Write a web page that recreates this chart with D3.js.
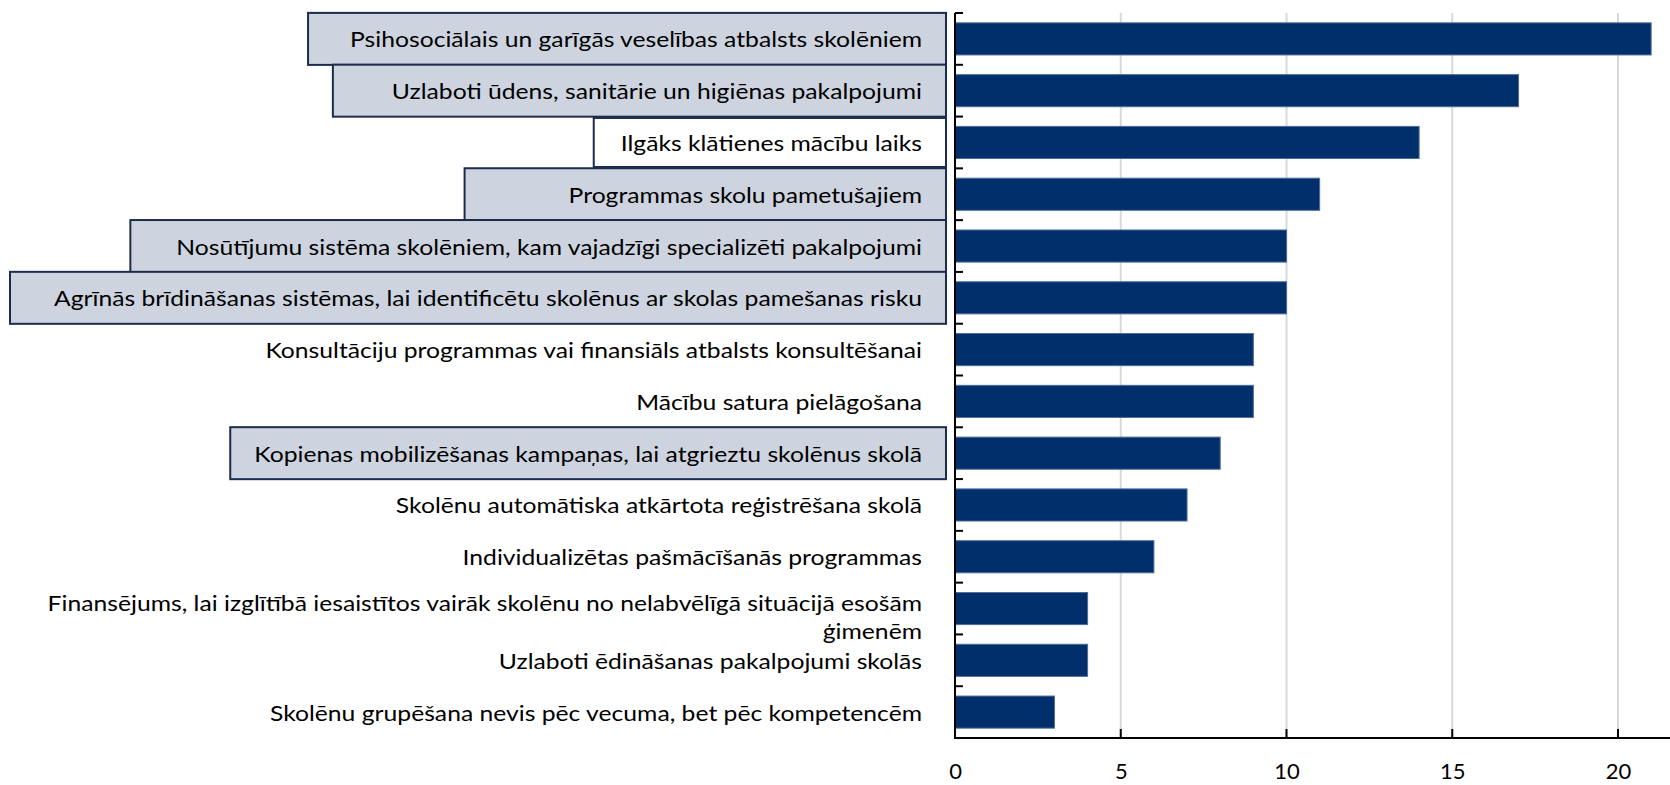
<!DOCTYPE html>
<html>
<head>
<meta charset="utf-8">
<script src="https://cdn.jsdelivr.net/npm/d3@7"></script>
<style>
  html, body { margin: 0; padding: 0; background: #fff; }
  svg { display: block; }
</style>
</head>
<body>
<svg id="chart" width="1670" height="785"></svg>
<script>
const categories = [
  "Psihosociālais un garīgās veselības atbalsts skolēniem",
  "Uzlaboti ūdens, sanitārie un higiēnas pakalpojumi",
  "Ilgāks klātienes mācību laiks",
  "Programmas skolu pametušajiem",
  "Nosūtījumu sistēma skolēniem, kam vajadzīgi specializēti pakalpojumi",
  "Agrīnās brīdināšanas sistēmas, lai identificētu skolēnus ar skolas pamešanas risku",
  "Konsultāciju programmas vai finansiāls atbalsts konsultēšanai",
  "Mācību satura pielāgošana",
  "Kopienas mobilizēšanas kampaņas, lai atgrieztu skolēnus skolā",
  "Skolēnu automātiska atkārtota reģistrēšana skolā",
  "Individualizētas pašmācīšanās programmas",
  "Finansējums, lai izglītībā iesaistītos vairāk skolēnu no nelabvēlīgā situācijā esošām\nģimenēm",
  "Uzlaboti ēdināšanas pakalpojumi skolās",
  "Skolēnu grupēšana nevis pēc vecuma, bet pēc kompetencēm"
];
const values = [21, 17, 14, 11, 10, 10, 9, 9, 8, 7, 6, 4, 4, 3];
const xTicks = [0, 5, 10, 15, 20];
// framed labels in the reference (index into categories)
const shadedLabels = [0, 1, 3, 4, 5, 8];
const whiteLabels = [2];
// layout only: left padding of each label frame, by category index
const framePadLeft = { 0: 42, 1: 59, 2: 27, 3: 104, 4: 46, 5: 44, 8: 24 };

const svg = d3.select("#chart");
const FONT = "Lato, 'Open Sans', sans-serif";
const fontSize = 22;

const x = d3.scaleLinear().domain([0, 20]).range([955, 1618]);
const y = d3.scaleBand().domain(categories).range([13, 738]).paddingInner(0.38).paddingOuter(0.19);
const step = y.step();

// gridlines
svg.append("g").selectAll("line").data(xTicks.filter(d => d > 0)).join("line")
  .attr("x1", d => x(d)).attr("x2", d => x(d))
  .attr("y1", 13).attr("y2", 738)
  .attr("stroke", "#d9d9d9").attr("stroke-width", 2);

// bars
svg.append("g").selectAll("rect").data(values).join("rect")
  .attr("x", x(0))
  .attr("y", (d, i) => y(categories[i]))
  .attr("width", d => x(d) - x(0))
  .attr("height", y.bandwidth())
  .attr("fill", "#002f6c")
  .attr("stroke", "#4d6d9a").attr("stroke-width", 1);

// y axis line + boundary ticks
svg.append("line").attr("x1", x(0)).attr("x2", x(0)).attr("y1", 13).attr("y2", 738)
  .attr("stroke", "#000").attr("stroke-width", 2);
const bounds = d3.range(categories.length).map(i => 13 + i * step);
svg.append("g").selectAll("line").data(bounds).join("line")
  .attr("x1", x(0)).attr("x2", x(0) + 8)
  .attr("y1", d => d).attr("y2", d => d)
  .attr("stroke", "#000").attr("stroke-width", 2);

// x axis
const xAxis = d3.axisBottom(x).tickValues(xTicks).tickSize(0).tickPadding(25);
const gx = svg.append("g").attr("transform", "translate(0,738)").call(xAxis);
gx.select(".domain").remove();
gx.selectAll("text").attr("font-family", FONT).attr("font-size", fontSize).attr("fill", "#000");
svg.append("line").attr("x1", x(0) - 1).attr("x2", 1670).attr("y1", 738).attr("y2", 738)
  .attr("stroke", "#000").attr("stroke-width", 2);
svg.append("g").selectAll("line").data(xTicks.filter(d => d > 0)).join("line")
  .attr("x1", d => x(d)).attr("x2", d => x(d))
  .attr("y1", 738).attr("y2", 729)
  .attr("stroke", "#000").attr("stroke-width", 2);

// labels
const textRight = 922;
const boxLayer = svg.append("g");
const whiteLayer = svg.append("g");
const textLayer = svg.append("g");

const texts = [];
categories.forEach((c, i) => {
  const lines = c.split("\n");
  const cy = y(c) + y.bandwidth() / 2;
  lines.forEach((ln, j) => {
    const yy = lines.length === 1 ? cy : (j === 0 ? cy - 6 : cy + 22);
    const t = textLayer.append("text")
      .attr("x", textRight).attr("y", yy)
      .attr("text-anchor", "end").attr("dominant-baseline", "central")
      .attr("font-family", FONT).attr("font-size", fontSize).attr("fill", "#000")
      .text(ln);
    texts.push({ node: t, idx: i });
  });
});
// condense glyphs so the longest label fits the reference width (~868px)
const longest = texts.find(o => o.idx === 5).node.node();
const k = 868 / longest.getComputedTextLength();
texts.forEach(o => {
  const w = o.node.node().getComputedTextLength();
  o.node.attr("textLength", w * k).attr("lengthAdjust", "spacingAndGlyphs");
});

function drawBox(layer, i, fill, h) {
  const c = categories[i];
  const t = texts.find(o => o.idx === i).node;
  const w = +t.attr("textLength");
  const cy = y(c) + y.bandwidth() / 2;
  const left = textRight - w - framePadLeft[i];
  layer.append("rect")
    .attr("x", left).attr("y", cy - h / 2)
    .attr("width", 946 - left).attr("height", h)
    .attr("fill", fill).attr("stroke", "#1c2c4c").attr("stroke-width", 2);
}
shadedLabels.forEach(i => drawBox(boxLayer, i, "#cdd4df", 52));
whiteLabels.forEach(i => drawBox(whiteLayer, i, "#ffffff", 49));
</script>
</body>
</html>
